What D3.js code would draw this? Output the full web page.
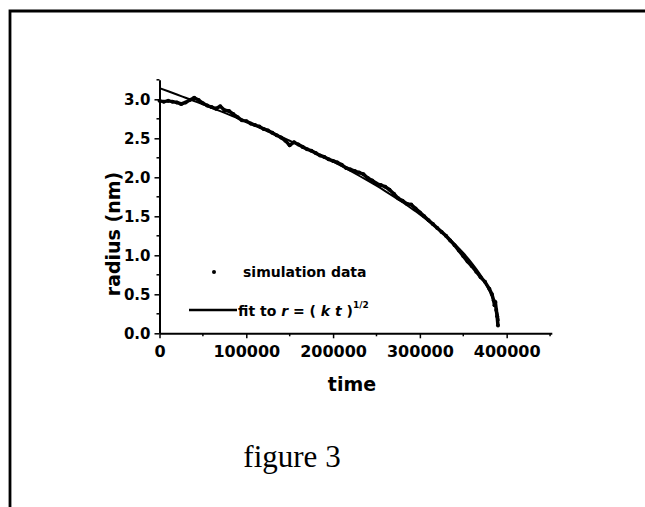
<!DOCTYPE html>
<html>
<head>
<meta charset="utf-8">
<script src="https://cdn.jsdelivr.net/npm/d3@7"></script>
<style>
  html, body { margin: 0; padding: 0; background: #fff; overflow: hidden; }
  svg { display: block; }
  .tick text { font-family: "DejaVu Sans", sans-serif; font-weight: bold; fill: #000; }
</style>
</head>
<body>
<svg id="chart" width="645" height="507"></svg>
<script>
// Simulation: particle radius (nm) against time
const simTime = [
  0, 5000, 10000, 15000, 20000, 25000, 30000, 35000, 40000, 45000,
  50000, 55000, 60000, 65000, 70000, 75000, 80000, 85000, 90000, 95000,
  100000, 105000, 110000, 115000, 120000, 125000, 130000, 135000, 140000, 145000,
  150000, 155000, 160000, 165000, 170000, 175000, 180000, 185000, 190000, 195000,
  200000, 205000, 210000, 215000, 220000, 225000, 230000, 235000, 240000, 245000,
  250000, 255000, 260000, 265000, 270000, 275000, 280000, 285000, 290000, 295000,
  300000, 305000, 310000, 315000, 320000, 325000, 330000, 335000, 340000, 345000,
  350000, 355000, 360000, 365000, 370000, 375000, 380000, 383000, 385000, 386000,
  387000, 388000, 389000, 390000
];
const simRadius = [
  2.98, 2.97, 2.98, 2.97, 2.96, 2.94, 2.96, 2.99, 3.02, 2.99,
  2.95, 2.92, 2.90, 2.88, 2.91, 2.86, 2.85, 2.81, 2.77, 2.73,
  2.72, 2.69, 2.67, 2.65, 2.62, 2.60, 2.57, 2.54, 2.51, 2.47,
  2.41, 2.45, 2.42, 2.39, 2.36, 2.34, 2.31, 2.28, 2.26, 2.23,
  2.21, 2.19, 2.16, 2.12, 2.10, 2.08, 2.06, 2.04, 1.99, 1.96,
  1.92, 1.90, 1.88, 1.84, 1.79, 1.73, 1.70, 1.66, 1.65, 1.60,
  1.55, 1.50, 1.45, 1.40, 1.35, 1.30, 1.25, 1.19, 1.13, 1.06,
  0.99, 0.92, 0.86, 0.79, 0.72, 0.66, 0.57, 0.50, 0.42, 0.36,
  0.40, 0.30, 0.22, 0.10
];

// Fitted curve r = (k t)^1/2, sampled along the time axis
const fitTime = [
  0, 10000, 20000, 30000, 40000, 50000, 60000, 70000, 80000, 90000,
  100000, 110000, 120000, 130000, 140000, 150000, 160000, 170000, 180000, 190000,
  200000, 210000, 220000, 230000, 240000, 250000, 260000, 270000, 280000, 290000,
  300000, 310000, 320000, 330000, 340000, 350000, 360000, 370000, 375000, 380000,
  385000, 388000, 390000, 391000
];
const fitRadius = [
  3.143, 3.103, 3.062, 3.020, 2.978, 2.936, 2.892, 2.849, 2.804, 2.759,
  2.713, 2.666, 2.618, 2.569, 2.520, 2.469, 2.418, 2.365, 2.311, 2.256,
  2.200, 2.142, 2.082, 2.020, 1.957, 1.892, 1.824, 1.753, 1.680, 1.603,
  1.523, 1.437, 1.347, 1.250, 1.145, 1.029, 0.898, 0.745, 0.653, 0.550,
  0.420, 0.318, 0.224, 0.159
];

const xMajorTicks = [0, 100000, 200000, 300000, 400000];
const xMinorTicks = [50000, 150000, 250000, 350000, 450000];
const yMajorTicks = [0.0, 0.5, 1.0, 1.5, 2.0, 2.5, 3.0];
const yMinorTicks = [0.25, 0.75, 1.25, 1.75, 2.25, 2.75, 3.25];

const svg = d3.select("#chart");

// page frame: a rule along the top and down the left side only
svg.append("path").attr("d", "M650,11 H10 V510")
  .attr("fill", "none").attr("stroke", "#000").attr("stroke-width", 2.8);

const x = d3.scaleLinear().domain([0, 452000]).range([159.5, 551.8]);
const y = d3.scaleLinear().domain([0, 3.25]).range([333.3, 79.8]);

// x axis
const gx = svg.append("g").attr("transform", `translate(0,${y(0)})`);
gx.call(d3.axisBottom(x).tickValues(xMajorTicks).tickFormat(d3.format("d"))
  .tickSize(5).tickPadding(6).tickSizeOuter(0));
gx.append("g").selectAll("line").data(xMinorTicks).join("line")
  .attr("x1", d => x(d)).attr("x2", d => x(d)).attr("y1", 0).attr("y2", 3)
  .attr("stroke", "#000").attr("stroke-width", 1.5);
gx.selectAll(".tick text").style("font-size", "16px").attr("dy", "0.8em");

// y axis
const gy = svg.append("g").attr("transform", `translate(${x(0)},0)`);
gy.call(d3.axisLeft(y).tickValues(yMajorTicks).tickFormat(d3.format(".1f"))
  .tickSize(5).tickPadding(4).tickSizeOuter(0));
gy.append("g").selectAll("line").data(yMinorTicks).join("line")
  .attr("x1", 0).attr("x2", -3).attr("y1", d => y(d)).attr("y2", d => y(d))
  .attr("stroke", "#000").attr("stroke-width", 1.5);
gy.selectAll(".tick text").style("font-size", "15px");

svg.selectAll(".domain").attr("stroke-width", 2);
svg.selectAll(".tick line").attr("stroke-width", 1.5);

// axis titles
svg.append("text").attr("x", 352).attr("y", 391)
  .attr("text-anchor", "middle")
  .style("font-family", "DejaVu Sans, sans-serif").style("font-weight", "bold")
  .style("font-size", "19px").text("time");
svg.append("text").attr("transform", "translate(120,234) rotate(-90)")
  .attr("text-anchor", "middle")
  .style("font-family", "DejaVu Sans, sans-serif").style("font-weight", "bold")
  .style("font-size", "19px").text("radius (nm)");

// fit curve
const fitPts = fitTime.map((t, i) => [t, fitRadius[i]]);
svg.append("path").datum(fitPts)
  .attr("fill", "none").attr("stroke", "#000").attr("stroke-width", 2)
  .attr("d", d3.line().x(d => x(d[0])).y(d => y(d[1])).curve(d3.curveMonotoneX));

// simulation points (dense, so they read as a thick trace)
const simPts = simTime.map((t, i) => [t, simRadius[i]]);
svg.append("path").datum(simPts)
  .attr("fill", "none").attr("stroke", "#000").attr("stroke-width", 3.5)
  .attr("stroke-linejoin", "round")
  .attr("d", d3.line().x(d => x(d[0])).y(d => y(d[1])));
svg.append("g").selectAll("circle").data(simPts).join("circle")
  .attr("cx", d => x(d[0])).attr("cy", d => y(d[1])).attr("r", 2)
  .attr("fill", "#000");

// legend
const legend = svg.append("g")
  .style("font-family", "DejaVu Sans, sans-serif").style("font-weight", "bold")
  .style("font-size", "14px");
legend.append("circle").attr("cx", 214).attr("cy", 272).attr("r", 2).attr("fill", "#000");
legend.append("text").attr("x", 243).attr("y", 277).text("simulation data");
legend.append("line").attr("x1", 189).attr("x2", 237).attr("y1", 310).attr("y2", 310)
  .attr("stroke", "#000").attr("stroke-width", 2.5);
const fitLabel = legend.append("text").attr("x", 238).attr("y", 316);
fitLabel.append("tspan").text("fit to ");
fitLabel.append("tspan").style("font-style", "italic").text("r");
fitLabel.append("tspan").text(" = ( ");
fitLabel.append("tspan").style("font-style", "italic").text("k t");
fitLabel.append("tspan").text(" )");
fitLabel.append("tspan").attr("dy", -8).style("font-size", "9px").text("1/2");

// caption
svg.append("text").attr("x", 292).attr("y", 467).attr("text-anchor", "middle")
  .style("font-family", "Liberation Serif, Times New Roman, serif")
  .style("font-size", "31px").text("figure 3");
</script>
</body>
</html>
